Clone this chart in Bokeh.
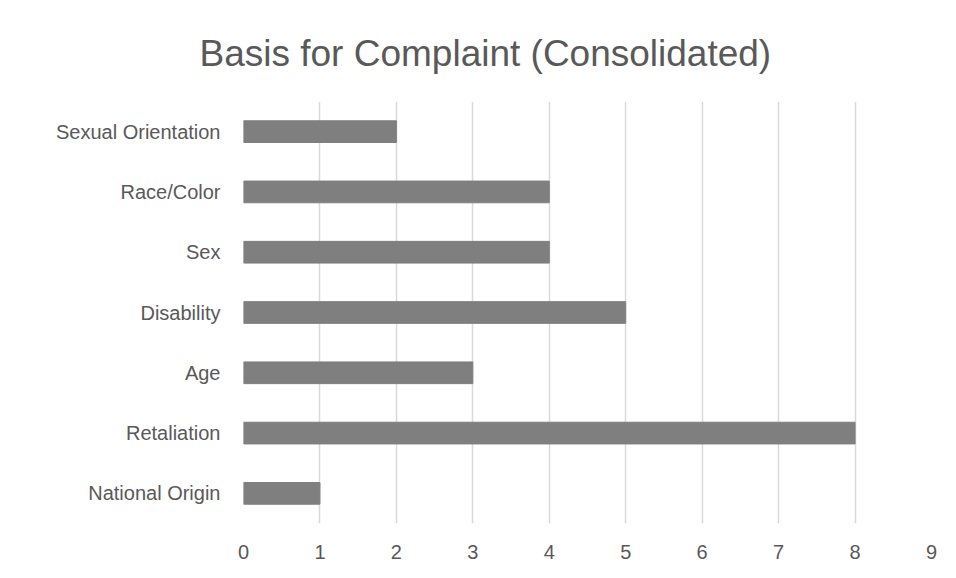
from bokeh.plotting import figure
from bokeh.models import ColumnDataSource, FixedTicker
from bokeh.embed import file_html
from bokeh.resources import INLINE

categories = ["National Origin", "Retaliation", "Age", "Disability", "Sex", "Race/Color", "Sexual Orientation"]
counts = [1, 8, 3, 5, 4, 4, 2]
x_ticks = [0, 1, 2, 3, 4, 5, 6, 7, 8, 9]
title_text = "Basis for Complaint (Consolidated)"

FONT = "Liberation Sans"
TXT = "#595959"

src = ColumnDataSource(dict(cat=categories, val=counts))

p = figure(width=950, height=570, y_range=categories, x_range=(0, 9),
           output_backend="svg", toolbar_location=None,
           min_border_left=243, min_border_right=19, min_border_top=101, min_border_bottom=47)
p.hbar(y="cat", right="val", left=0, height=0.36, source=src, color="#7f7f7f")

p.xaxis.ticker = FixedTicker(ticks=x_ticks)
for ax in (p.xaxis[0], p.yaxis[0]):
    ax.axis_line_color = None
    ax.major_tick_line_color = None
    ax.minor_tick_line_color = None
    ax.major_label_text_font = FONT
    ax.major_label_text_color = TXT
    ax.major_label_text_font_size = "20px"
p.xaxis.major_label_standoff = 15
p.yaxis.major_label_standoff = 17

p.xgrid.grid_line_color = "#d9d9d9"
p.xgrid.grid_line_width = 1.5
p.ygrid.grid_line_color = None
p.outline_line_color = None

p.title.text = title_text
p.title.align = "left"
p.title.offset = -44
p.title.standoff = 55
p.title.text_font = FONT
p.title.text_font_size = "37px"
p.title.text_font_style = "normal"
p.title.text_color = TXT

open("out.html", "w").write(file_html(p, INLINE))
